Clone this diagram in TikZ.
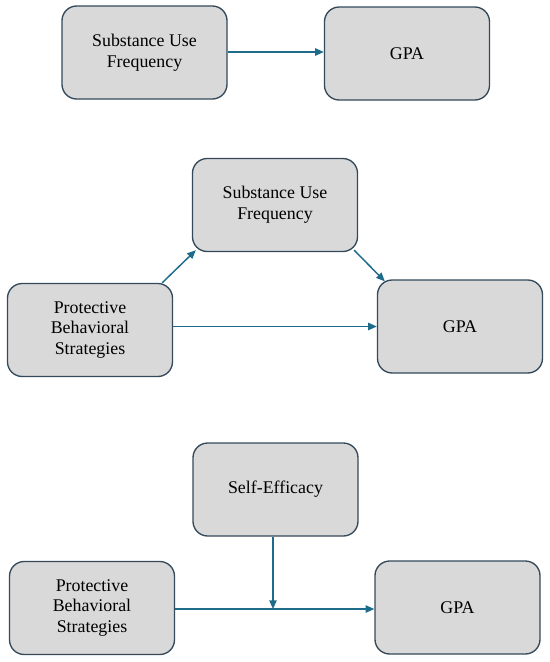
\documentclass[tikz,border=0pt]{standalone}
\usepackage{fontspec}
\setmainfont{Liberation Serif}
\usetikzlibrary{arrows.meta,calc}
\definecolor{boxfill}{HTML}{D9D9D9}
\definecolor{boxline}{HTML}{34495A}
\definecolor{arr}{HTML}{1F6B8A}
\begin{document}
\begin{tikzpicture}[x=0.75pt,y=-0.75pt,
  box/.style={draw=boxline,fill=boxfill,line width=1pt,rounded corners=11pt,
    minimum width=123.75pt,minimum height=69.75pt,align=center,
    inner sep=2pt,font=\fontsize{13.4}{15.5}\selectfont},
  link/.style={draw=arr,line width=1.1pt,-{Triangle[length=6.5pt,width=5.5pt]}}]
\useasboundingbox (0,0) rectangle (550,662);
% top
\node[box] (A1) at (144.5,52.5) {Substance Use\\Frequency};
\node[box] (A2) at (407,53.5) {GPA};
\draw[link] (A1.east |- 0,52) -- (A2.west |- 0,52);
% middle
\node[box] (B1) at (275,205) {Substance Use\\Frequency};
\node[box] (B2) at (90,330) {Protective\\Behavioral\\Strategies};
\node[box] (B3) at (460,326.5) {GPA};
\draw[link] ($(B2.north east)+(-11,0)$) -- ($(B1.south west)+(4,-2)$);
\draw[link] ($(B1.south east)+(-4,-2)$) -- ($(B3.north west)+(8,2)$);
\draw[link] (B2.east |- B3.west) -- (B3.west);
% bottom
\node[box] (C1) at (275.5,489.5) {Self-Efficacy};
\node[box] (C2) at (92,608) {Protective\\Behavioral\\Strategies};
\node[box] (C3) at (457.5,607.5) {GPA};
\coordinate (m) at (273,609);
\draw[link] (C2.east |- m) -- (C3.west |- m);
\draw[link] (C1.south -| m) -- (m);
\end{tikzpicture}
\end{document}
